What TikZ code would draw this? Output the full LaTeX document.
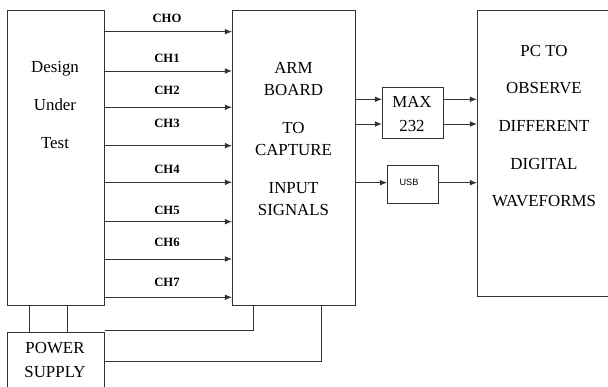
\documentclass[tikz,border=0pt]{standalone}
\usepackage{fontspec}
\setmainfont{Liberation Serif}
\newfontfamily\arialfont{Liberation Sans}
\usepackage{tikz}
\usetikzlibrary{arrows.meta}

\tikzset{
  blk/.style={draw=black!80, line width=0.6pt, anchor=north west, inner sep=0pt},
  txt/.style={align=center, font=\fontsize{12}{16}\selectfont},
  chlab/.style={font=\fontsize{9}{10}\selectfont\bfseries},
  sig/.style={draw=black!80, line width=0.6pt, ->},
}

\begin{document}
\begin{tikzpicture}[x=0.025cm,y=-0.025cm,>={Latex[length=5pt,width=4pt]}]
  \clip (0,0) rectangle (608,387);
  % blocks
  \node[blk, minimum width=97*0.025cm, minimum height=295*0.025cm] (dut) at (7,10) {};
  \node[blk, minimum width=123*0.025cm, minimum height=295*0.025cm] (arm) at (232,10) {};
  \node[blk, minimum width=140*0.025cm, minimum height=286*0.025cm] (pc) at (477,10) {};
  \node[blk, minimum width=61*0.025cm, minimum height=51*0.025cm] (max) at (382,87) {};
  \node[blk, minimum width=51*0.025cm, minimum height=38*0.025cm] (usb) at (387,165) {};
  \node[blk, minimum width=97*0.025cm, minimum height=70*0.025cm] (ps) at (7,332) {};

  % texts
  \node[txt] (duttxt) at (55,105) {Design\\[10.7pt]Under\\[10.7pt]Test};
  \node[txt] (armtxt) at (293.5,139) {ARM\\BOARD\\[10.7pt]TO\\CAPTURE\\[10.7pt]INPUT\\SIGNALS};
  \node[txt] (pctxt) at (544,126) {PC TO\\[10.7pt]OBSERVE\\[10.7pt]DIFFERENT\\[10.7pt]DIGITAL\\[10.7pt]WAVEFORMS};
  \node[txt, font=\fontsize{12}{17.2}\selectfont] (maxtxt) at (412,114) {MAX\\232};
  \node[font=\fontsize{6.5}{7}\selectfont\arialfont] (usbtxt) at (409,182) {USB};
  \node[txt, font=\fontsize{12}{17}\selectfont] (pstxt) at (55,360) {POWER\\SUPPLY};

  % channels
  \foreach \y/\ly/\lab [count=\i] in {31.7/18.3/CHO, 71/58.7/CH1, 107.3/90.7/CH2, 145.7/123.3/CH3,
      182.3/169.3/CH4, 221.7/210.7/CH5, 259/242/CH6, 297.3/282.3/CH7} {
    \draw[sig] (dut.east |- 0,\y) -- (arm.west |- 0,\y);
    \node[chlab] (ch\i) at (167,\ly) {\lab};
  }

  % serial and usb links
  \draw[sig] (arm.east |- 0,99.3) -- (max.west |- 0,99.3);
  \draw[sig] (arm.east |- 0,124) -- (max.west |- 0,124);
  \draw[sig] (max.east |- 0,99.3) -- (pc.west |- 0,99.3);
  \draw[sig] (max.east |- 0,124) -- (pc.west |- 0,124);
  \draw[sig] (arm.east |- 0,182.7) -- (usb.west |- 0,182.7);
  \draw[sig] (usb.east |- 0,182.7) -- (pc.west |- 0,182.7);

  % supply lines
  \draw[black!80, line width=0.6pt] (dut.south -| 29,0) -- (ps.north -| 29,0);
  \draw[black!80, line width=0.6pt] (dut.south -| 67.7,0) -- (ps.north -| 67.7,0);
  \draw[black!80, line width=0.6pt] (ps.east |- 0,330) -| (arm.south -| 253,0);
  \draw[black!80, line width=0.6pt] (ps.east |- 0,361) -| (arm.south -| 321.7,0);
\end{tikzpicture}
\end{document}
